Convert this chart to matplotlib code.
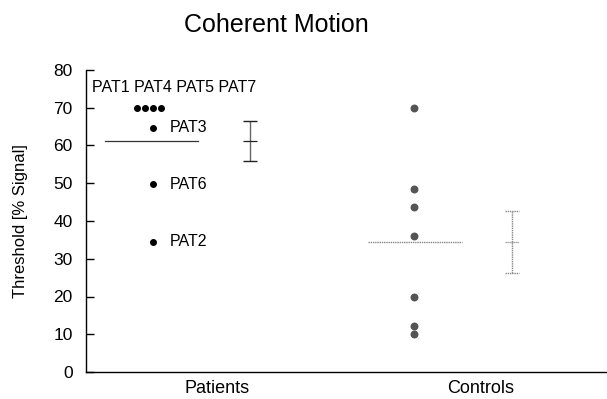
import matplotlib
matplotlib.use('Agg')
import matplotlib.pyplot as plt
import numpy as np

plt.rcParams['font.family'] = ['Liberation Sans', 'DejaVu Sans']

# data
groups = ['Patients', 'Controls']
group_pos = [1, 2]

pat_top = [70, 70, 70, 70]          # PAT1 PAT4 PAT5 PAT7
pat_top_dx = [-0.053, -0.023, 0.008, 0.038]
pat_other = [64.7, 49.7, 34.5]      # PAT3 PAT6 PAT2
pat_other_names = ['PAT3', 'PAT6', 'PAT2']
pat_mean = 61.2
pat_err = 5.3

ctrl_vals = [70, 48.4, 43.8, 36.0, 19.9, 12.2, 10.0]
ctrl_mean = 34.4
ctrl_err = 8.3

yticks = [0, 10, 20, 30, 40, 50, 60, 70, 80]

dotted = (0, (1, 0.6))


def mean_err(ax, x, m, e, color, ls, capcolor):
    # vertical bar, caps and mean tick
    ax.vlines(x, m - e, m + e, color=color, lw=1, linestyle=ls)
    ax.hlines([m - e, m + e], x - 0.027, x + 0.027, color=capcolor, lw=1, linestyle=ls)
    ax.hlines(m, x - 0.027, x + 0.027, color=capcolor, lw=0.9, linestyle=ls)


fig = plt.figure(figsize=(6.07, 3.99), dpi=100)
ax = fig.add_axes([86 / 607, 1 - 372 / 399, 1 - 86 / 607, (372 - 70) / 399])

# patients
px = group_pos[0] - 0.25
ax.scatter([px + d for d in pat_top_dx], pat_top, s=16, color='black', zorder=3)
ax.scatter([px + 0.008] * len(pat_other), pat_other, s=16, color='black', zorder=3)
for v, n in zip(pat_other, pat_other_names):
    ax.text(px + 0.07, v, n, fontsize=11.5, va='center', ha='left')
ax.text(0.527, 75.4, 'PAT1 PAT4 PAT5 PAT7', fontsize=11.5, va='center', ha='left')
ax.plot([group_pos[0] - 0.425, group_pos[0] - 0.07], [pat_mean, pat_mean], color='#333333', lw=0.9)
mean_err(ax, group_pos[0] + 0.125, pat_mean, pat_err, '#666666', 'solid', '#222222')

# controls
cx = group_pos[1] - 0.254
ax.scatter([cx] * len(ctrl_vals), ctrl_vals, s=22, color='#555555', zorder=3)
ax.plot([group_pos[1] - 0.428, group_pos[1] - 0.072], [ctrl_mean, ctrl_mean], color='#888888', lw=1,
        linestyle=dotted)
mean_err(ax, group_pos[1] + 0.117, ctrl_mean, ctrl_err, '#888888', dotted, '#888888')

ax.set_xlim(0.504, 2.477)
ax.set_ylim(0, 80)
ax.set_xticks(group_pos)
ax.set_xticklabels(groups, fontsize=13)
ax.tick_params(axis='x', length=0, pad=6)
ax.set_yticks(yticks)
ax.tick_params(axis='y', direction='in', length=6, width=1, labelsize=12.5, pad=9.5)
for s in ['top', 'right']:
    ax.spines[s].set_visible(False)
ax.spines['left'].set_linewidth(1)
ax.spines['bottom'].set_linewidth(1)
ax.set_ylabel('Threshold [% Signal]', fontsize=12, labelpad=18)

fig.text(0.455, 0.937, 'Coherent Motion', fontsize=18, ha='center', va='center')

fig.savefig('out.png', dpi=100)
